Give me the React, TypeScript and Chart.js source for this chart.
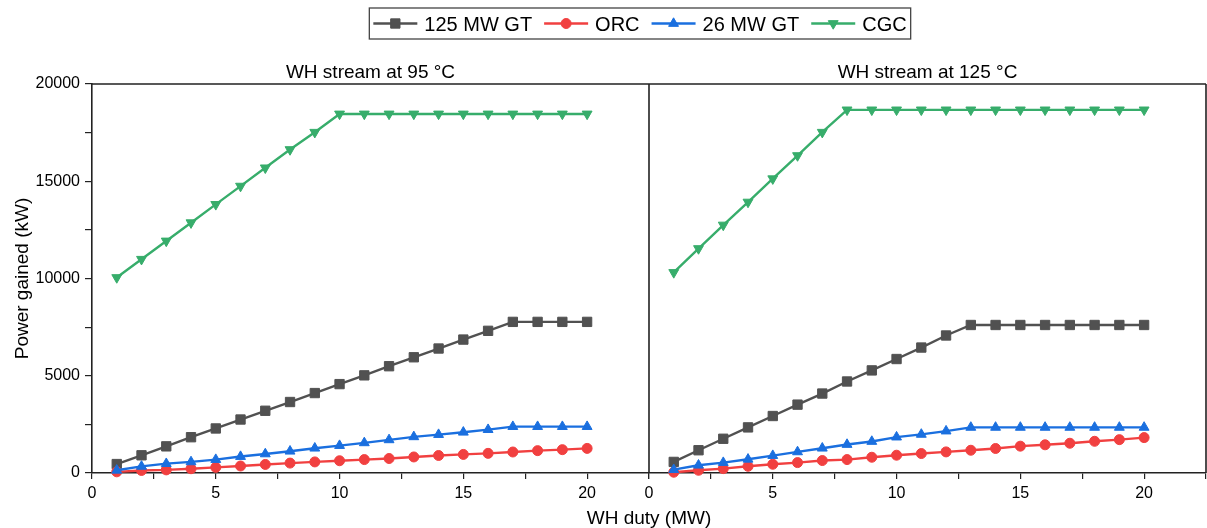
import { useEffect, useRef } from "react";
import { Chart, registerables } from "chart.js";
import { drawPoint } from "chart.js/helpers";

Chart.register(...registerables);

const duty = [1, 2, 3, 4, 5, 6, 7, 8, 9, 10, 11, 12, 13, 14, 15, 16, 17, 18, 19, 20];
const seriesNames = ["125 MW GT", "ORC", "26 MW GT", "CGC"];
const panelTitles = ["WH stream at 95 °C", "WH stream at 125 °C"];
const xAxisTitle = "WH duty (MW)";
const yAxisTitle = "Power gained (kW)";

// WH stream at 95 °C
const gt125At95 = [460, 910, 1370, 1840, 2290, 2750, 3200, 3650, 4110, 4570, 5020, 5490, 5950, 6400, 6860, 7310, 7770, 7770, 7770, 7770];
const orcAt95 = [60, 130, 160, 220, 290, 360, 440, 510, 570, 630, 690, 745, 825, 900, 955, 1010, 1080, 1150, 1200, 1265];
const gt26At95 = [140, 340, 480, 570, 690, 845, 980, 1120, 1275, 1410, 1550, 1705, 1860, 1975, 2095, 2230, 2385, 2385, 2385, 2385];
const cgcAt95 = [10050, 10990, 11930, 12870, 13810, 14750, 15690, 16630, 17520, 18460, 18460, 18460, 18460, 18460, 18460, 18460, 18460, 18460, 18460, 18460];

// WH stream at 125 °C
const gt125At125 = [570, 1170, 1760, 2345, 2930, 3515, 4085, 4705, 5275, 5860, 6450, 7070, 7610, 7610, 7610, 7610, 7610, 7610, 7610, 7610];
const orcAt125 = [40, 140, 225, 345, 450, 535, 640, 690, 810, 915, 1000, 1085, 1170, 1260, 1380, 1450, 1530, 1630, 1715, 1820];
const gt26At125 = [170, 400, 535, 705, 895, 1085, 1275, 1465, 1620, 1845, 1985, 2155, 2345, 2345, 2345, 2345, 2345, 2345, 2345, 2345];
const cgcAt125 = [10310, 11540, 12750, 13930, 15130, 16320, 17520, 18670, 18670, 18670, 18670, 18670, 18670, 18670, 18670, 18670, 18670, 18670, 18670, 18670];

const panel95 = [gt125At95, orcAt95, gt26At95, cgcAt95];
const panel125 = [gt125At125, orcAt125, gt26At125, cgcAt125];

const colors = ["#515151", "#F14040", "#1A6FDF", "#37AD6B"];
const pointStyles = ["rect", "circle", "triangle", "triangle"];
const pointRotations = [0, 0, 0, 180];
const pointRadii = [6.6, 5, 5.7, 5.7];

const FONT = '"Liberation Sans", Arial, sans-serif';
const AXIS = "#222222";

function makeDataset(values: number[], i: number, axis: string) {
  return {
    label: seriesNames[i],
    data: duty.map((d, k) => ({ x: d, y: values[k] })),
    xAxisID: axis,
    yAxisID: "y",
    borderColor: colors[i],
    backgroundColor: colors[i],
    pointBackgroundColor: colors[i],
    pointBorderColor: colors[i],
    pointStyle: pointStyles[i],
    pointRotation: pointRotations[i],
    pointRadius: pointRadii[i],
    pointHoverRadius: pointRadii[i],
    pointBorderWidth: 1,
    borderWidth: 2.4,
    tension: 0,
    order: 3 - i,
    clip: false as any,
  };
}

function xScale() {
  return {
    type: "linear" as const,
    position: "bottom" as const,
    stack: "panels",
    stackWeight: 1,
    min: 0,
    max: 22.5,
    afterFit: (s: any) => {
      s.height = 55;
      s.paddingLeft = 0;
      s.paddingRight = 0;
    },
    ticks: {
      stepSize: 2.5,
      autoSkip: false,
      maxRotation: 0,
      padding: 5,
      color: "#000",
      font: { size: 16, family: FONT },
      callback: (v: any) => (Number(v) % 5 === 0 ? String(v) : ""),
    },
    grid: { drawOnChartArea: false, drawTicks: true, tickLength: 6, tickColor: AXIS, lineWidth: 1.2 },
    border: { display: true, color: AXIS, width: 1.6 },
  };
}

const framePlugin = {
  id: "frame",
  afterDraw(chart: any) {
    const { ctx, chartArea } = chart;
    const sx = chart.scales.x;
    const sx2 = chart.scales.x2;
    ctx.save();
    // frame lines
    ctx.strokeStyle = AXIS;
    ctx.lineWidth = 1.6;
    ctx.beginPath();
    ctx.moveTo(chartArea.left, chartArea.top);
    ctx.lineTo(chartArea.right, chartArea.top);
    ctx.moveTo(chartArea.right, chartArea.top);
    ctx.lineTo(chartArea.right, chartArea.bottom);
    ctx.moveTo(sx2.left, chartArea.top);
    ctx.lineTo(sx2.left, chartArea.bottom);
    ctx.stroke();

    // panel titles
    ctx.fillStyle = "#000";
    ctx.font = `19px ${FONT}`;
    ctx.textAlign = "center";
    ctx.textBaseline = "alphabetic";
    ctx.fillText(panelTitles[0], (sx.left + sx.right) / 2, 78);
    ctx.fillText(panelTitles[1], (sx2.left + sx2.right) / 2, 78);

    // x axis title
    ctx.fillText(xAxisTitle, (chartArea.left + chartArea.right) / 2, 524);

    // legend
    ctx.font = `20px ${FONT}`;
    ctx.textAlign = "left";
    const lineLen = 44;
    const gapText = 7;
    const gapItem = 12;
    const padL = 4;
    const padR = 4;
    const widths = seriesNames.map((n) => ctx.measureText(n).width);
    const total =
      padL + padR + widths.reduce((a, w) => a + lineLen + gapText + w, 0) + gapItem * (seriesNames.length - 1);
    let x = 640 - total / 2;
    const top = 8;
    const h = 31;
    const cy = top + h / 2;
    ctx.strokeStyle = "#444";
    ctx.lineWidth = 1.3;
    ctx.strokeRect(x, top, total, h);
    x += padL;
    seriesNames.forEach((name, i) => {
      ctx.strokeStyle = colors[i];
      ctx.fillStyle = colors[i];
      ctx.lineWidth = 2.4;
      ctx.beginPath();
      ctx.moveTo(x, cy);
      ctx.lineTo(x + lineLen, cy);
      ctx.stroke();
      ctx.lineWidth = 1;
      drawPoint(
        ctx,
        { pointStyle: pointStyles[i] as any, rotation: pointRotations[i], radius: pointRadii[i], borderWidth: 1 },
        x + lineLen / 2,
        cy
      );
      ctx.fillStyle = "#000";
      ctx.fillText(name, x + lineLen + gapText, cy + 7.2);
      x += lineLen + gapText + widths[i] + gapItem;
    });
    ctx.restore();
  },
};

export default function App() {
  const ref = useRef<HTMLCanvasElement | null>(null);

  useEffect(() => {
    if (!ref.current) return;
    Chart.defaults.font.family = FONT;
    const datasets = [
      ...panel95.map((vals, i) => makeDataset(vals, i, "x")),
      ...panel125.map((vals, i) => makeDataset(vals, i, "x2")),
    ];
    const chart = new Chart(ref.current, {
      type: "line",
      data: { datasets: datasets as any },
      options: {
        animation: false,
        responsive: false,
        devicePixelRatio: 1,
        layout: { autoPadding: false, padding: { top: 84, right: 1, left: 0, bottom: 0 } } as any,
        plugins: {
          legend: { display: false },
          title: { display: false },
          tooltip: { enabled: false },
        },
        scales: {
          x: xScale() as any,
          x2: xScale() as any,
          y: {
            type: "linear",
            position: "left",
            min: 0,
            max: 20000,
            afterFit: (s: any) => {
              s.width = 92;
            },
            ticks: {
              stepSize: 2500,
              autoSkip: false,
              padding: 5,
              color: "#000",
              font: { size: 16, family: FONT },
              callback: (v: any) => (Number(v) % 5000 === 0 ? String(v) : ""),
            },
            title: {
              display: true,
              text: yAxisTitle,
              color: "#000",
              font: { size: 19, family: FONT },
              padding: { top: 11, bottom: 0 },
            },
            grid: { drawOnChartArea: false, drawTicks: true, tickLength: 7, tickColor: AXIS, lineWidth: 1.2 },
            border: { display: true, color: AXIS, width: 1.6 },
          } as any,
        },
      },
      plugins: [framePlugin],
    });
    return () => chart.destroy();
  }, []);

  return (
    <div style={{ position: "fixed", left: 0, top: 0, width: 1207, height: 528, background: "#fff" }}>
      <canvas ref={ref} width={1207} height={528} style={{ display: "block", width: 1207, height: 528 }} />
    </div>
  );
}
